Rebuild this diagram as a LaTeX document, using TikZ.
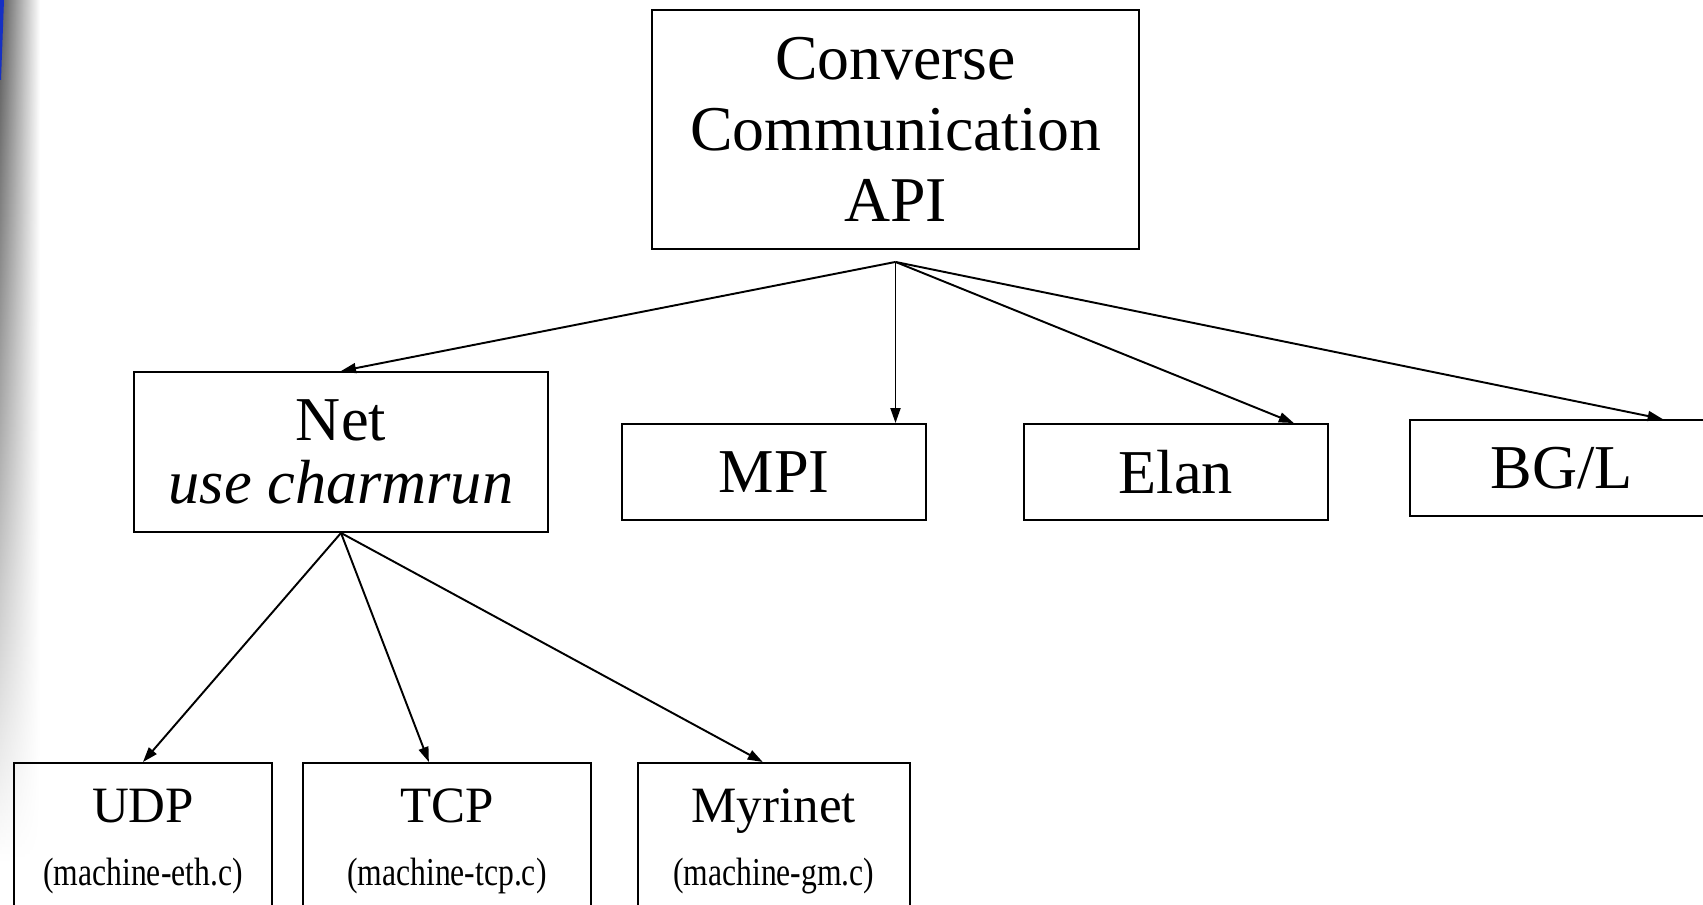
\documentclass[tikz,border=0pt]{standalone}
\usepackage{fontspec}
\setmainfont{Liberation Serif}
\usepackage{graphicx}
\usetikzlibrary{arrows.meta, positioning, fadings}
\definecolor{slideblue}{RGB}{22,48,196}
\newcommand{\srcfile}[1]{{\fontsize{22.5}{27}\selectfont\scalebox{0.8}[1]{#1}}}

\begin{document}
\begin{tikzpicture}[
    x=0.02cm, y=-0.02cm,
    box/.style={rectangle, draw=black, line width=1.1pt, align=center, inner sep=0pt, font=\fontsize{35.5}{35.7}\selectfont},
    sub/.style={box, minimum height=3.14cm, font=\fontsize{29}{35.8}\selectfont},
    arrow/.style={-{Triangle[length=0.3cm, width=0.2cm]}, line width=1.1pt}
]
\useasboundingbox (0,0) rectangle (1703,905);
\clip (0,0) rectangle (1703,905);

% slide edge
\shade[left color=black!65, right color=white, path fading=south] (0,0) rectangle (40,860);
\fill[slideblue] (0,0) -- (4,0) -- (1,80) -- (0,80) -- cycle;

\node[box, minimum width=9.74cm, minimum height=4.78cm, font=\fontsize{36.3}{40.4}\selectfont] (api) at (895.5,129.5) {Converse\\Communication\\API};
\coordinate[below=0.24cm of api] (fork);

\node[box, minimum width=8.28cm, minimum height=3.2cm] (net) at (341,452) {Net\\\textit{use charmrun}};
\node[box, minimum width=6.08cm, minimum height=1.92cm] (mpi) at (774,472) {MPI};
\node[box, minimum width=6.08cm, minimum height=1.92cm, right=1.92cm of mpi] (elan) {Elan};
\node[box, minimum width=6.08cm, minimum height=1.92cm, right=1.6cm of elan, yshift=0.08cm] (bgl) {BG/L};

\node[sub, minimum width=5.16cm, anchor=north] (udp) at (143,762) {UDP\\\srcfile{(machine-eth.c)}};
\node[sub, minimum width=5.76cm, right=0.58cm of udp] (tcp) {TCP\\\srcfile{(machine-tcp.c)}};
\node[sub, minimum width=5.44cm, right=0.9cm of tcp] (myri) {Myrinet\\\srcfile{(machine-gm.c)}};

\draw[arrow] (fork) -- (net.north);
\draw[arrow] (fork) -- (fork |- mpi.north);
\draw[arrow] (fork) -- ([xshift=2.36cm]elan.north);
\draw[arrow] (fork) -- ([xshift=2.02cm]bgl.north);

\draw[arrow] (net.south) -- (udp.north);
\draw[arrow] (net.south) -- ([xshift=-0.36cm]tcp.north);
\draw[arrow] (net.south) -- ([xshift=-0.22cm]myri.north);
\end{tikzpicture}
\end{document}
